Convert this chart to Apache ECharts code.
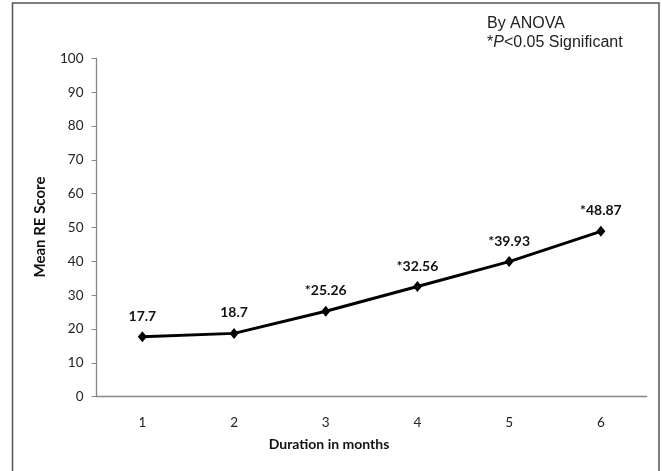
<!DOCTYPE html>
<html><head><meta charset="utf-8">
<script src="https://cdn.jsdelivr.net/npm/echarts@6/dist/echarts.min.js"></script>
<style>html,body{margin:0;padding:0;background:#fff}#c{width:662px;height:471px}</style>
</head><body><div id="c"></div>
<script>
var categories = ['1','2','3','4','5','6'];
var values = [17.7, 18.7, 25.26, 32.56, 39.93, 48.87];
var pointLabels = ['17.7','18.7','*25.26','*32.56','*39.93','*48.87'];
var yTicks = {min: 0, max: 100, interval: 10};
var xTitle = 'Duration in months';
var yTitle = 'Mean RE Score';
var noteLine1 = 'By ANOVA';

var chart = echarts.init(document.getElementById('c'), null, {renderer: 'canvas'});
chart.setOption({
  animation: false,
  backgroundColor: '#fff',
  grid: {left: 96.5, right: 15.3, top: 58.5, bottom: 74.4},
  xAxis: {
    type: 'category', data: categories, boundaryGap: true,
    axisLine: {lineStyle: {color: '#868686', width: 1.3}},
    axisTick: {show: false},
    axisLabel: {color: '#222', fontFamily: 'Lato', fontSize: 13.5, margin: 19}
  },
  yAxis: {
    type: 'value', min: yTicks.min, max: yTicks.max, interval: yTicks.interval,
    splitLine: {show: false},
    axisLine: {show: true, lineStyle: {color: '#868686', width: 1.3}},
    axisTick: {show: true, inside: false, length: 5, lineStyle: {color: '#868686'}},
    axisLabel: {color: '#222', fontFamily: 'Lato', fontSize: 13.5, margin: 13}
  },
  series: [{
    type: 'line', data: values,
    lineStyle: {color: '#000', width: 3},
    itemStyle: {color: '#000'},
    symbol: 'diamond', symbolSize: [9, 11],
    label: {
      show: true, position: 'top', distance: 8,
      fontFamily: 'Lato', fontWeight: 'bold', fontSize: 14, color: '#111',
      formatter: function(p){ return pointLabels[p.dataIndex]; }
    }
  }],
  graphic: [
    {type: 'rect', shape: {x: 12.5, y: 3, width: 646.5, height: 475}, style: {fill: 'none', stroke: '#555', lineWidth: 1.5}, silent: true},
    {type: 'text', x: 329, y: 444, style: {text: xTitle, font: 'bold 14px Lato', fill: '#111', align: 'center', verticalAlign: 'middle'}},
    {type: 'text', x: 40, y: 227, rotation: Math.PI/2, style: {text: yTitle, font: 'bold 15px Lato', fill: '#111', align: 'center', verticalAlign: 'middle'}},
    {type: 'text', x: 487, y: 33, style: {
      text: noteLine1 + '\n*{i|P}<0.05 Significant',
      font: '16px "Liberation Sans"', fill: '#222', align: 'left', verticalAlign: 'middle', lineHeight: 19,
      rich: {i: {fontStyle: 'italic', fontFamily: 'Liberation Sans', fontSize: 16, fill: '#222', lineHeight: 19}}
    }}
  ]
});
</script></body></html>
